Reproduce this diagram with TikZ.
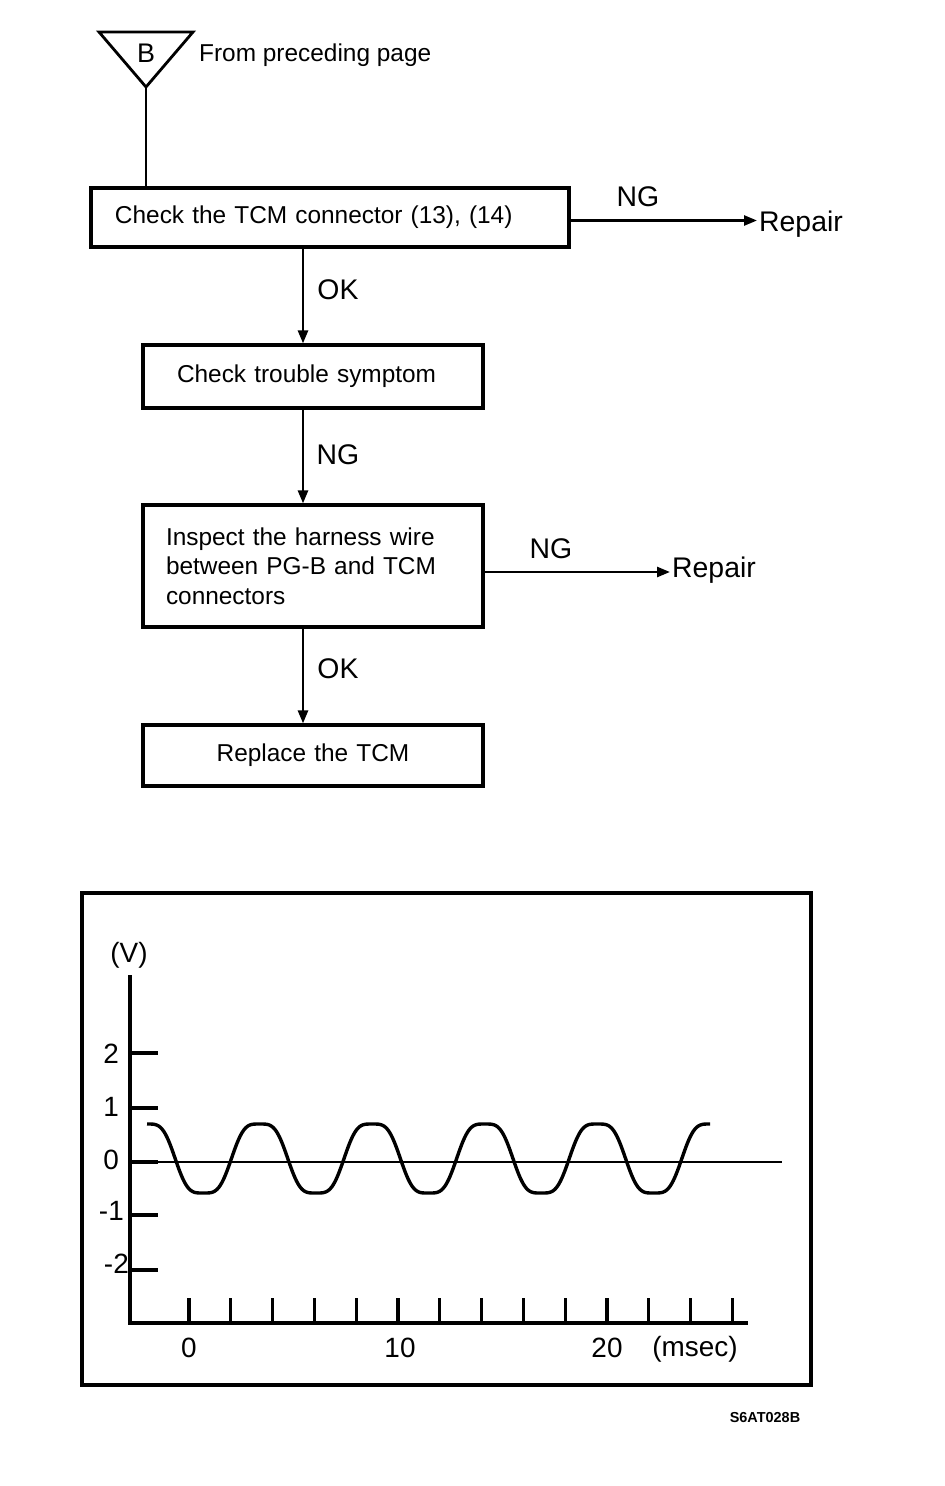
\documentclass[tikz,border=0pt]{standalone}
\usepackage{fontspec}
\setmainfont{Liberation Sans}
\usetikzlibrary{arrows.meta}
\begin{document}
\begin{tikzpicture}[x=1bp,y=-1bp,
  stepbox/.style={draw,line width=3.2bp,rectangle,inner ysep=0pt,align=left,
    font=\fontsize{24.5}{29.5}\selectfont},
  lbl/.style={inner sep=0pt,font=\fontsize{28.5}{30}\selectfont},
  axlbl/.style={inner sep=0pt,font=\fontsize{28}{30}\selectfont},
  arr/.style={line width=2.6bp,-{Triangle[length=13bp,width=10bp]}},
  thick line/.style={line width=3.2bp},
]
\useasboundingbox (0,0) rectangle (944,1486);
% connector triangle
\draw[line width=2.8bp,line join=miter] (99,32) -- (193,32) -- (146,87) -- cycle;
\coordinate (tri) at (146,87);
\node[inner sep=0pt,font=\fontsize{27}{30}\selectfont] (blabel) at (146,53) {B};
\node[inner sep=0pt,anchor=west,font=\fontsize{24.5}{28}\selectfont] (from) at (199,55) {From preceding page};
% boxes
\node[stepbox,minimum width=478bp,minimum height=59bp,inner xsep=24bp,text width=430bp] (b1) at (330,217.5) {Check the TCM connector (13), (14)};
\node[stepbox,minimum width=340bp,minimum height=63bp,inner xsep=34bp,text width=272bp] (b2) at (313,376.5) {Check trouble symptom};
\node[stepbox,minimum width=340bp,minimum height=122bp,inner xsep=23bp,text width=294bp] (b3) at (313,566) {Inspect the harness wire\\between PG-B and TCM\\connectors};
\node[stepbox,minimum width=340bp,minimum height=61bp,inner xsep=23bp,text width=294bp,align=center] (b4) at (313,755.5) {Replace the TCM};
\coordinate (spine) at (303,0);
\coordinate (e1) at ([yshift=-3bp]b1.east);
\coordinate (e3) at ([yshift=-6bp]b3.east);
% labels
\node[lbl,anchor=west,inner xsep=2bp] (r1) at (757,224) {Repair};
\node[lbl,anchor=west,inner xsep=2bp] (r2) at (670,570) {Repair};
\node[lbl] (ng1) at (638,197) {NG};
\node[lbl] (ok1) at (338,290) {OK};
\node[lbl] (ng2) at (338,455) {NG};
\node[lbl] (ng3) at (551,549) {NG};
\node[lbl] (ok2) at (338,669) {OK};
% connectors
\draw[line width=2.6bp] (tri) -- (b1.north -| tri);
\draw[arr] (e1) -- (r1.west |- e1);
\draw[arr] (b1.south -| spine) -- (b2.north -| spine);
\draw[arr] (b2.south -| spine) -- (b3.north -| spine);
\draw[arr] (e3) -- (r2.west |- e3);
\draw[arr] (b3.south -| spine) -- (b4.north -| spine);
% graph
\draw[thick line] (82,893) rectangle (811,1385);
\draw[thick line] (130,975) -- (130,1323) -- (748,1323);
\foreach \yy in {1053,1108,1162,1215,1270} \draw[thick line] (130,\yy) -- (158,\yy);
\foreach \i in {0,...,13} \draw[thick line] ({189+\i*41.8},1298) -- ({189+\i*41.8},1323);
\draw[line width=1.8bp] (130,1162) -- (782,1162);
\draw[line width=3.4bp,line join=round] plot[domain=147:710,samples=400]
  (\x,{1158.5-34.5*(cos((\x-147)*3.19716)-cos((\x-147)*9.59147)/9)*1.125});
\node[axlbl] (vunit) at (129,955) {(V)};
\node[axlbl,anchor=east] (y2) at (119,1054) {2};
\node[axlbl,anchor=east] (y1) at (119,1107) {1};
\node[axlbl,anchor=east] (y0) at (119,1160) {0};
\node[axlbl,anchor=east] (ym1) at (124,1211) {-1};
\node[axlbl,anchor=east] (ym2) at (129,1264) {-2};
\node[axlbl] (x0) at (189,1348) {0};
\node[axlbl] (x10) at (400,1348) {10};
\node[axlbl] (x20) at (607,1348) {20};
\node[axlbl] (xunit) at (695,1349) {(msec)};
\node[inner sep=0pt,font=\fontsize{14.5}{16}\selectfont\bfseries] (code) at (765,1418) {S6AT028B};
\end{tikzpicture}
\end{document}
